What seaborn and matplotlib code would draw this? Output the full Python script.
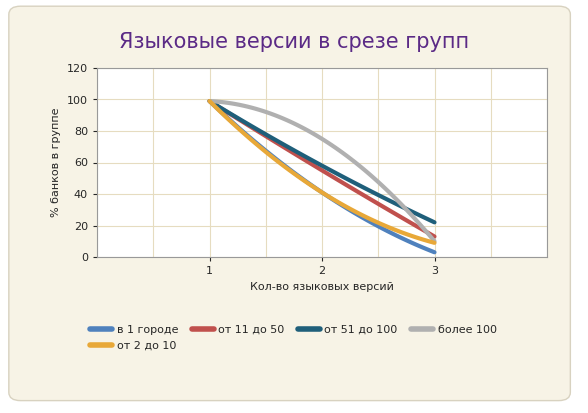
import numpy as np
import pandas as pd
import seaborn as sns
import matplotlib.pyplot as plt
from matplotlib.patches import FancyBboxPatch

x_vals = [1, 2, 3]
series_names = ["в 1 городе", "от 11 до 50", "от 51 до 100", "более 100", "от 2 до 10"]
v_city = [99, 41, 3]
v_11_50 = [99, 55, 13]
v_51_100 = [99, 58, 22]
v_100 = [99, 75, 10]
v_2_10 = [99, 41, 9]
values = [v_city, v_11_50, v_51_100, v_100, v_2_10]
colors = ["#4f81bd", "#c0504d", "#1f5f7a", "#b0b0b0", "#e8a838"]

sns.set_style("white")
plt.rcParams['font.family'] = ['DejaVu Sans']

fig = plt.figure(figsize=(5.88, 4.13), dpi=100)
fig.patch.set_facecolor("white")
fig.patches.append(FancyBboxPatch((0.015, 0.03), 0.955, 0.955, boxstyle="round,pad=0,rounding_size=0.02",
                                  transform=fig.transFigure, facecolor="#f7f3e6", edgecolor="#d8d2c0",
                                  lw=1, zorder=-5))
ax = fig.add_axes([97/588, 1-257/413, 450/588, 189/413])
ax.set_facecolor("white")

rows = []
for name, vals in zip(series_names, values):
    xs = np.linspace(1, 3, 60)
    ys = np.polyval(np.polyfit(x_vals, vals, 2), xs)
    for a, b in zip(xs, ys):
        rows.append({"x": a, "y": b, "s": name})
df = pd.DataFrame(rows)
sns.lineplot(data=df, x="x", y="y", hue="s", palette=colors, hue_order=series_names,
             lw=3, ax=ax, legend=False, sort=False)

ax.set_xlim(0, 4)
ax.set_ylim(0, 120)
ax.set_xticks([1, 2, 3])
ax.set_yticks(range(0, 121, 20))
ax.set_xticks(np.arange(0, 4.01, 0.5), minor=True)
ax.grid(True, which="both", color="#e6dcc0", lw=0.8)
ax.tick_params(labelsize=8, length=3, which="major", left=True, bottom=True)
for s in ax.spines.values():
    s.set_color("#999999")
ax.set_xlabel("Кол-во языковых версий", fontsize=8)
ax.set_ylabel("% банков в группе", fontsize=8)

fig.text(0.5, 1-42/413, "Языковые версии в срезе групп", ha="center", va="center",
         fontsize=15, color="#5b2a86")

handles = [plt.Line2D([], [], color=c, lw=4) for c in colors]
order = [0, 4, 1, 2, 3]
fig.legend([handles[i] for i in order], [series_names[i] for i in order],
           loc="upper left", bbox_to_anchor=(80/588, 1-315/413), ncol=4,
           frameon=False, fontsize=8, handlelength=2, columnspacing=1.2, handletextpad=0.4)

fig.savefig("out.png", dpi=100)
